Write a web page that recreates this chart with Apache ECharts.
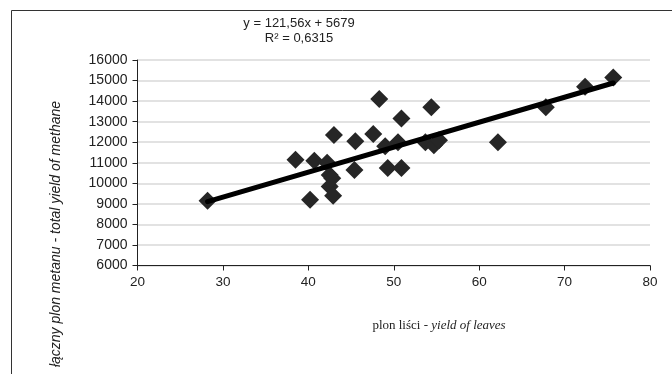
<!DOCTYPE html>
<html>
    <head>
        <meta charset="utf-8" />
        <script src="https://cdn.jsdelivr.net/npm/echarts@6/dist/echarts.min.js"></script>
    </head>
    <body>
        <style>
            html, body, #main {
                width: 100%;
                padding: 0;
                margin: 0;
                height: 100%;
                background: #fff;
            }
        </style>
        <div id="main"></div>
        <script>
            // yield of leaves (x) vs total yield of methane (y)
            var leafYield = [28.2, 38.5, 40.2, 40.7, 42.2, 42.5, 42.5, 42.9, 42.8, 43.0, 45.4, 45.5, 47.6, 48.3,
                             49.0, 49.3, 50.5, 50.9, 50.9, 53.7, 54.4, 54.7, 55.3, 62.2, 67.8, 72.4, 75.7];
            var methaneYield = [9150, 11150, 9200, 11100, 11000, 10400, 9850, 9400, 10250, 12350, 10650, 12050, 12400, 14100,
                                11800, 10750, 12000, 13150, 10750, 12000, 13700, 11850, 12100, 12000, 13700, 14700, 15150];
            // linear trend from the printed equation
            var trendSlope = 121.56;
            var trendIntercept = 5679;
            var trendLabel = ['y = 121,56x + 5679', 'R² = 0,6315'];
            var xTicks = [20, 80, 10];
            var yTicks = [6000, 16000, 1000];

            var points = leafYield.map(function (x, i) { return [x, methaneYield[i]]; });
            var xMin = Math.min.apply(null, leafYield);
            var xMax = Math.max.apply(null, leafYield);
            var trend = [xMin, xMax].map(function (x) { return [x, trendSlope * x + trendIntercept]; });

            var chart = echarts.init(document.getElementById('main'));

            chart.setOption({
                animation: false,
                grid: { left: 137.5, right: 22, top: 60, bottom: 108.5 },
                graphic: [
                    {
                        type: 'rect',
                        shape: { x: 11.5, y: 10.5, width: 700, height: 400 },
                        style: { fill: null, stroke: '#333', lineWidth: 1 }
                    },
                    {
                        type: 'text',
                        x: 299, y: 16,
                        style: {
                            text: trendLabel.join('\n'),
                            align: 'center',
                            font: '13px Arial, "Liberation Sans", sans-serif',
                            fill: '#222',
                            lineHeight: 15
                        }
                    },
                    {
                        type: 'text',
                        x: 439, y: 326,
                        style: {
                            text: '{r|plon liści - }{i|yield of leaves}',
                            align: 'center',
                            verticalAlign: 'middle',
                            fill: '#222',
                            rich: {
                                r: { fontFamily: '"Liberation Serif", "DejaVu Serif", serif', fontSize: 13, fill: '#222' },
                                i: { fontFamily: '"Liberation Serif", "DejaVu Serif", serif', fontSize: 13, fontStyle: 'italic', fill: '#222' }
                            }
                        }
                    },
                    {
                        type: 'text',
                        x: 56, y: 234,
                        rotation: Math.PI / 2,
                        style: {
                            text: 'łączny plon metanu - total yield of methane',
                            align: 'center',
                            verticalAlign: 'middle',
                            font: 'italic 14px Arial, "Liberation Sans", sans-serif',
                            fill: '#222'
                        }
                    }
                ],
                xAxis: {
                    type: 'value',
                    min: xTicks[0],
                    max: xTicks[1],
                    interval: xTicks[2],
                    axisLine: { lineStyle: { color: '#222', width: 1 } },
                    axisTick: { show: true, length: 5, lineStyle: { color: '#222' } },
                    axisLabel: { color: '#222', fontSize: 13.5, fontFamily: 'Arial', margin: 10 },
                    splitLine: { show: false }
                },
                yAxis: {
                    type: 'value',
                    min: yTicks[0],
                    max: yTicks[1],
                    interval: yTicks[2],
                    axisLine: { show: true, lineStyle: { color: '#222', width: 1 } },
                    axisTick: { show: true, length: 5, lineStyle: { color: '#222' } },
                    axisLabel: {
                        color: '#222', fontSize: 14, fontFamily: 'Arial', margin: 10,
                        formatter: function (v) { return String(v); }
                    },
                    splitLine: { show: true, lineStyle: { color: '#d9d9d9', width: 1.5 } }
                },
                series: [
                    {
                        type: 'scatter',
                        data: points,
                        symbol: 'diamond',
                        symbolSize: 18,
                        itemStyle: { color: '#262626', opacity: 1 }
                    },
                    {
                        type: 'line',
                        data: trend,
                        symbol: 'none',
                        lineStyle: { color: '#000', width: 5, cap: 'round' },
                        z: 5
                    }
                ]
            });
        </script>
    </body>
</html>
